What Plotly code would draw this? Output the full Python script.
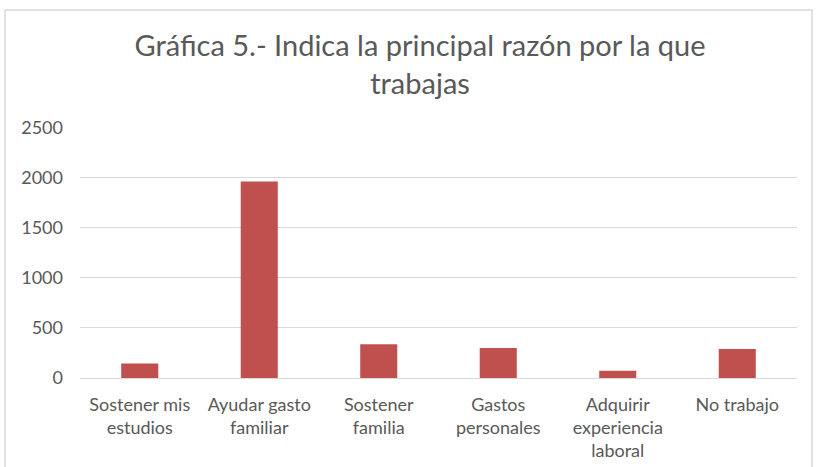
import plotly.graph_objects as go

categories = ["Sostener mis<br>estudios", "Ayudar gasto<br>familiar", "Sostener<br>familia",
              "Gastos<br>personales", "Adquirir<br>experiencia<br>laboral", "No trabajo"]
values = [145, 1960, 337, 300, 73, 290]
y_ticks = [0, 500, 1000, 1500, 2000, 2500]

W, H = 816, 467
L, R, T, B = 80, 19, 127, 89
pw = W - L - R
ph = H - T - B

fig = go.Figure(go.Bar(x=categories, y=values, marker=dict(color="#C0504D", line=dict(width=0))))

font_family = "Lato, Open Sans, sans-serif"
fig.update_layout(
    width=W, height=H,
    margin=dict(l=L, r=R, t=T, b=B, autoexpand=False),
    paper_bgcolor="white", plot_bgcolor="white",
    bargap=0.69,
    showlegend=False,
    title=dict(text="Gráfica 5.- Indica la principal razón por la que<br>trabajas",
               x=420 / W, xanchor="center", y=1 - 56 / H, yanchor="middle",
               xref="container", yref="container", automargin=False,
               font=dict(family=font_family, size=29, color="#595959")),
    font=dict(family=font_family, size=18, color="#595959"),
)
fig.update_yaxes(range=[0, 2505], tickvals=y_ticks, showgrid=True, gridcolor="#D9D9D9", gridwidth=1,
                 zeroline=False, showline=False, ticklabelstandoff=16, automargin=False)
fig.update_xaxes(showline=True, linecolor="#D9D9D9", linewidth=1, showgrid=False,
                 ticklabelstandoff=10, tickangle=0, automargin=False)

fig.add_shape(type="rect", xref="paper", yref="paper",
              x0=(5 - L) / pw, x1=(812 - L) / pw,
              y0=-(H + 5 - (H - B)) / ph, y1=(H - B - 10) / ph,
              line=dict(color="#D9D9D9", width=1.5), fillcolor="rgba(0,0,0,0)", layer="below")

fig.write_html("out.html", config={"displayModeBar": False},
               post_script="document.body.style.margin='0';")
